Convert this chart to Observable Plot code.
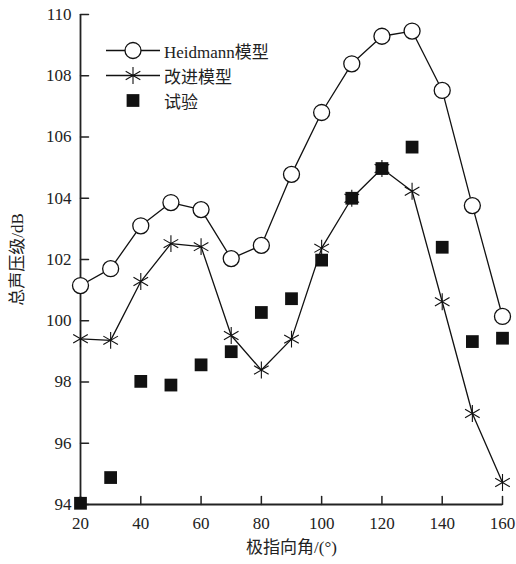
<!DOCTYPE html>
<html><head><meta charset="utf-8">
<script src="https://cdn.jsdelivr.net/npm/d3@7"></script>
<script src="https://cdn.jsdelivr.net/npm/@observablehq/plot@0.6"></script>
<style>
body{margin:0;background:#fff;}
#wrap{position:relative;width:516px;height:564px;font-family:"Liberation Serif","Noto Sans CJK SC",serif;}
#legend{position:absolute;left:106px;top:38px;font-size:17px;color:#222;font-family:"Liberation Serif","Noto Sans CJK SC",serif;}
#legend .row{display:flex;align-items:center;height:25px;}
#legend svg{width:54px;height:25px;margin-right:4px;}
</style></head>
<body><div id="wrap"><div id="chart"></div><div id="legend"></div></div>
<script>
const angles = [20,30,40,50,60,70,80,90,100,110,120,130,140,150,160];
const heidmann = [101.15,101.7,103.1,103.86,103.63,102.03,102.46,104.78,106.8,108.39,109.29,109.46,107.52,103.76,100.14];
const improved = [99.41,99.36,101.28,102.52,102.42,99.52,98.39,99.4,102.37,104.0,104.97,104.23,100.62,96.97,94.72];
const test = [94.04,94.88,98.02,97.9,98.56,98.99,100.27,100.72,101.98,104.0,104.97,105.67,102.4,99.32,99.43];
const xTicks = [20,40,60,80,100,120,140,160];
const yTicks = [94,96,98,100,102,104,106,108,110];
const seriesNames = ["Heidmann模型","改进模型","试验"];

const rows = (vals) => angles.map((a,i)=>({a, v: vals[i]}));
const H = rows(heidmann), I = rows(improved), T = rows(test);
const tickShape = {draw(ctx, l){ ctx.moveTo(0,0); ctx.lineTo(0,-l); }};

const chart = Plot.plot({
  width: 516, height: 564,
  marginLeft: 80, marginRight: 14, marginTop: 14, marginBottom: 60,
  style: {fontFamily: '"Liberation Serif","Noto Sans CJK SC",serif', fontSize: "17px", color: "#222", background: "transparent"},
  x: {domain: [20,160]},
  y: {domain: [94,110]},
  marks: [
    Plot.axisX({ticks: xTicks, tickSize: 0, tickPadding: 12, label: "极指向角/(°)", labelAnchor: "center", labelArrow: "none", labelOffset: 48}),
    Plot.axisY({ticks: yTicks, tickSize: 0, tickPadding: 9, label: "总声压级/dB", labelAnchor: "center", labelArrow: "none", labelOffset: 70}),
    Plot.vector(xTicks, {x: d => d, y: () => 94, length: 8, rotate: 0, anchor: "start", shape: tickShape, stroke: "#222", strokeWidth: 1.5}),
    Plot.vector(yTicks, {x: () => 20, y: d => d, length: 8, rotate: 90, anchor: "start", shape: tickShape, stroke: "#222", strokeWidth: 1.5}),
    Plot.ruleX([20], {stroke: "#222", strokeWidth: 1.8}),
    Plot.ruleY([94], {stroke: "#222", strokeWidth: 1.8}),
    Plot.line(H, {x: "a", y: "v", stroke: "#111", strokeWidth: 1.3}),
    Plot.line(I, {x: "a", y: "v", stroke: "#111", strokeWidth: 1.3}),
    Plot.dot(H, {x: "a", y: "v", symbol: "circle", r: 8, fill: "white", stroke: "#111", strokeWidth: 1.3}),
    Plot.dot(I, {x: "a", y: "v", symbol: "asterisk", r: 8, stroke: "#111", strokeWidth: 1.1}),
    Plot.dot(T, {x: "a", y: "v", symbol: "square", r: 7.2, fill: "#111", stroke: "none"})
  ]
});
document.getElementById("chart").appendChild(chart);

// legend
const leg = document.getElementById("legend");
const syms = ["circle","asterisk","square"];
seriesNames.forEach((name,i)=>{
  const row = document.createElement("div"); row.className="row";
  const s = d3.create("svg").attr("viewBox","0 0 54 25");
  if (i < 2) s.append("line").attr("x1",0).attr("x2",54).attr("y1",12.5).attr("y2",12.5).attr("stroke","#111").attr("stroke-width",1.3);
  const sym = {circle: d3.symbolCircle, asterisk: d3.symbolAsterisk, square: d3.symbolSquare}[syms[i]];
  const p = s.append("path").attr("transform","translate(27,12.5)");
  if (syms[i]==="circle") p.attr("d", d3.symbol(sym, Math.PI*64)()).attr("fill","white").attr("stroke","#111").attr("stroke-width",1.3);
  else if (syms[i]==="asterisk") p.attr("d", d3.symbol(sym, Math.PI*64)()).attr("fill","none").attr("stroke","#111").attr("stroke-width",1.1);
  else p.attr("d", d3.symbol(sym, Math.PI*7.2*7.2)()).attr("fill","#111");
  row.appendChild(s.node());
  const t = document.createElement("span"); t.textContent = name; row.appendChild(t);
  leg.appendChild(row);
});
</script></body></html>
